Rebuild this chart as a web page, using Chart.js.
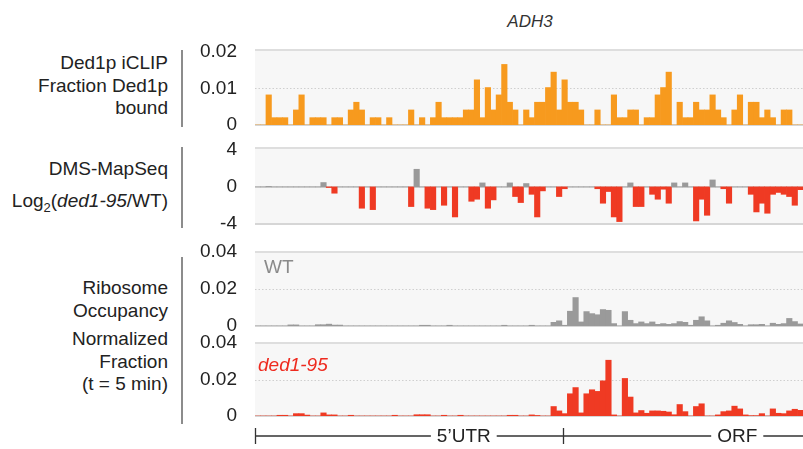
<!DOCTYPE html>
<html>
<head>
<meta charset="utf-8">
<script src="https://cdn.jsdelivr.net/npm/chart.js@4.4.0/dist/chart.umd.min.js"></script>
<style>
body { margin: 0; background: #fff; width: 803px; height: 449px; overflow: hidden; position: relative;
       font-family: "Liberation Sans", Arial, sans-serif; color: #222; }
canvas { position: absolute; left: 0; }
.lab { position: absolute; right: 635px; font-size: 19px; line-height: 22px; text-align: right; white-space: nowrap; }
.sep { position: absolute; left: 181px; width: 2px; background: #8c8c8c; }
#title { position: absolute; left: 480px; width: 100px; top: 12px; text-align: center; font-size: 17px; font-style: italic; color: #333; }
#wt { position: absolute; left: 264px; top: 256px; font-size: 19px; color: #8a8a8a; }
#ded { position: absolute; left: 258px; top: 354px; font-size: 19px; font-style: italic; color: #ee2a1f; }
</style>
</head>
<body>
<div id="title">ADH3</div>

<div class="lab" style="top:52px">Ded1p iCLIP</div>
<div class="lab" style="top:75px">Fraction Ded1p</div>
<div class="lab" style="top:97px">bound</div>
<div class="lab" style="top:158px">DMS-MapSeq</div>
<div class="lab" style="top:190px">Log<sub style="font-size:13px">2</sub>(<i>ded1-95</i>/WT)</div>
<div class="lab" style="top:277px">Ribosome</div>
<div class="lab" style="top:300px">Occupancy</div>
<div class="lab" style="top:328px">Normalized</div>
<div class="lab" style="top:351px">Fraction</div>
<div class="lab" style="top:373px">(t = 5 min)</div>

<div class="sep" style="top:50px;height:77px"></div>
<div class="sep" style="top:147px;height:81px"></div>
<div class="sep" style="top:257px;height:167px"></div>

<canvas id="c1" width="803" height="136" style="top:19px"></canvas>
<canvas id="c2" width="803" height="137" style="top:117px"></canvas>
<canvas id="c3" width="803" height="135" style="top:221px"></canvas>
<canvas id="c4" width="803" height="137" style="top:312px"></canvas>
<div id="wt">WT</div>
<div id="ded">ded1-95</div>

<script>
// position bins along the ADH3 transcript (left to right)
var bins = [];
for (var i = 0; i < 100; i++) bins.push(i + 1);

// Ded1p iCLIP, fraction bound
var iclip = [
  0, 0, .0082, .002, .002, .002, 0, .0041, .0082, 0,
  .002, .002, .002, 0, .002, .002, 0, .0041, .0062, .0041,
  0, .002, .002, 0, .002, 0, 0, 0, .0041, 0,
  .002, 0, .002, .0062, .002, .002, .002, .002, .0041, .0041,
  .0123, .002, .0102, .0041, .0082, .0165, .0062, .0041, 0, .0041,
  .002, .0062, .0062, .0102, .0144, .0041, .0123, .0062, .0062, .0041,
  0, 0, .0041, 0, 0, .0082, .002, .002, .0041, .0041,
  0, .002, .002, .0082, .0102, .0144, 0, .0062, .002, .002,
  .0062, .0041, .0041, .0082, .0041, .002, 0, .0041, .0082, 0,
  .0062, .0062, .002, .0041, .002, 0, .0041, .0041, 0, 0
];

// DMS-MapSeq log2(ded1-95/WT)
var dms = [
  0, 0, 0.05, 0, 0, 0, 0, 0, 0, 0,
  0, 0, 0.47, -0.07, -0.68, 0, 0, 0, 0, -2.3,
  0, -2.45, 0, 0, 0, 0, 0, 0, -2.12, 1.9,
  0, -2.3, -2.45, 0, -1.98, 0, -3.24, 0, 0, -1.55,
  -1.33, 0.43, -2.3, -1.4, 0, 0, 0.43, -1.04, -1.69, 0.36,
  -0.8, -3.24, -0.43, 0, 0, -1.04, -0.2, 0, 0, 0,
  0, 0, -0.2, -1.76, -0.5, -3.24, -3.74, 0, 0.43, -2.12,
  -2.12, 0, -0.8, -1.33, -0.25, -1.76, 0.43, 0, 0.43, 0,
  -3.67, -1.33, -3.06, 0.75, 0, -0.2, -1.76, 0, 0, 0,
  -0.8, -2.7, -1.76, -2.84, -0.8, -0.6, -0.8, -1.04, -1.98, -0.3
];

// ribosome occupancy, WT
var riboWT = [
  0, 0, 0, 0, 0, 0, .0006, .0006, 0, 0,
  0, .0007, .0007, .001, .0005, .0005, 0, 0, 0, 0,
  0, 0, 0, 0, 0, 0, 0, 0, 0, 0,
  .0004, .0004, 0, 0, 0, .0004, 0, 0, 0, 0,
  0, 0, 0, 0, 0, .0004, 0, 0, 0, 0,
  .0004, 0, 0, 0, .002, .0028, .0004, .008, .0154, .0022,
  .0078, .0067, .0061, .0089, .0085, .0013, 0, .0078, .0031, .0013,
  .0022, .0013, .0022, .0009, .0013, .0009, .0013, .0024, .002, .0004,
  .0031, .005, .0028, 0, .0004, .0015, .0028, .0019, .0009, 0,
  .0007, .0007, .0009, 0, .0015, .0009, .0013, .0041, .0024, .0011
];

// ribosome occupancy, ded1-95
var riboDed1 = [
  0, 0, 0, 0, .0004, .0004, 0, .0013, .0013, .0005,
  0, 0, .0017, .0006, .0006, 0, 0, .0004, 0, 0,
  0, 0, 0, 0, 0, .0004, 0, 0, 0, .0007,
  .0007, .0007, 0, 0, .0004, 0, 0, .0004, 0, 0,
  0, 0, 0, 0, 0, 0, .0004, .0004, 0, 0,
  .0006, .0003, 0, 0, .0052, .0028, .0013, .0122, .0156, .0017,
  .0122, .0144, .0135, .0193, .0306, .0006, 0, .0206, .0104, .0017,
  .003, .0015, .0028, .0028, .0026, .0022, .0007, .0063, .0024, 0,
  .0052, .0067, 0, 0, .0006, .0024, .0028, .0054, .0039, .0006,
  .0002, .0002, .0013, 0, .0039, .0015, .0013, .0028, .0037, .0031
];

// transcript regions, in bin units from the left edge
var regions = { utrStart: 0, orfStart: 56.2, utrLabel: 38.1, orfLabel: 88.0 };

var ORANGE = '#f79a1e', RED = '#ef3a23', GRAY = '#9a9a9a';

var panelDeco = {
  id: 'panelDeco',
  beforeDatasetsDraw: function (chart, args, opts) {
    var a = chart.chartArea, y = chart.scales.y, ctx = chart.ctx;
    ctx.save();
    ctx.fillStyle = '#f7f7f7';
    ctx.fillRect(a.left, a.top, a.right - a.left, a.bottom - a.top);
    ctx.strokeStyle = '#dedede';
    ctx.lineWidth = 2;
    ctx.beginPath(); ctx.moveTo(a.left, a.top + 1); ctx.lineTo(a.right, a.top + 1); ctx.stroke();
    (opts.solid || []).forEach(function (v) {
      var p = Math.round(y.getPixelForValue(v));
      ctx.strokeStyle = '#d6d6d6';
      ctx.lineWidth = 2;
      ctx.beginPath(); ctx.moveTo(a.left, p); ctx.lineTo(a.right, p); ctx.stroke();
    });
    (opts.dotted || []).forEach(function (v) {
      var p = Math.round(y.getPixelForValue(v)) + 0.5;
      ctx.strokeStyle = '#cfcfcf';
      ctx.lineWidth = 1;
      ctx.setLineDash([1.5, 2]);
      ctx.beginPath(); ctx.moveTo(a.left, p); ctx.lineTo(a.right, p); ctx.stroke();
      ctx.setLineDash([]);
    });
    ctx.restore();
  }
};

var regionAxis = {
  id: 'regionAxis',
  afterDraw: function (chart, args, opts) {
    if (!opts.show) return;
    var x = chart.scales.x, ctx = chart.ctx;
    var px = function (e) { return x.getPixelForValue(e - 0.5); };
    var yl = chart.chartArea.bottom + 20;
    ctx.save();
    ctx.strokeStyle = '#333';
    ctx.lineWidth = 1.3;
    ctx.beginPath();
    ctx.moveTo(px(regions.utrStart), yl); ctx.lineTo(chart.width, yl);
    [regions.utrStart, regions.orfStart].forEach(function (e) {
      var p = Math.round(px(e)) + 0.5;
      ctx.moveTo(p, yl - 8); ctx.lineTo(p, yl + 8);
    });
    ctx.stroke();
    ctx.font = '19px "Liberation Sans", Arial, sans-serif';
    ctx.textAlign = 'center';
    ctx.textBaseline = 'middle';
    [['5\u2019UTR', regions.utrLabel], ['ORF', regions.orfLabel]].forEach(function (t) {
      var c = px(t[1]), w = ctx.measureText(t[0]).width;
      ctx.fillStyle = '#fff';
      ctx.fillRect(c - w / 2 - 6, yl - 8, w + 12, 16);
      ctx.fillStyle = '#222';
      ctx.fillText(t[0], c, yl + 1);
    });
    ctx.restore();
  }
};

function makePanel(id, values, color, yMin, yMax, ticks, deco, pad, showRegions) {
  return new Chart(document.getElementById(id), {
    type: 'bar',
    data: {
      labels: bins,
      datasets: [{
        data: values,
        backgroundColor: color,
        borderWidth: 0,
        barPercentage: 1,
        categoryPercentage: 1
      }]
    },
    plugins: [panelDeco, regionAxis],
    options: {
      responsive: false,
      animation: false,
      layout: { padding: { top: pad[0], bottom: pad[1], left: 0, right: 0 } },
      plugins: {
        legend: { display: false },
        tooltip: { enabled: false },
        panelDeco: deco,
        regionAxis: { show: showRegions }
      },
      scales: {
        x: { display: false },
        y: {
          min: yMin,
          max: yMax,
          afterFit: function (s) { s.width = 255; },
          afterBuildTicks: function (s) { s.ticks = ticks.map(function (v) { return { value: v }; }); },
          grid: { display: false, drawTicks: false },
          border: { display: false },
          ticks: {
            padding: 18,
            color: '#222',
            font: { family: '"Liberation Sans", Arial, sans-serif', size: 19 },
            callback: function (v) { return v === 0 ? '0' : String(v); }
          }
        }
      }
    }
  });
}

makePanel('c1', iclip, ORANGE, 0, 0.0207, [0, 0.01, 0.02], { solid: [0], dotted: [0.01] }, [30, 30], false);
makePanel('c2', dms, function (c) { return c.raw >= 0 ? GRAY : RED; }, -4, 4.3, [-4, 0, 4], { solid: [0, -4] }, [30, 30], false);
makePanel('c3', riboWT, GRAY, 0, 0.0406, [0, 0.02, 0.04], { solid: [0], dotted: [0.02] }, [30, 30], false);
makePanel('c4', riboDed1, RED, 0, 0.0406, [0, 0.02, 0.04], { solid: [0], dotted: [0.02] }, [30, 33], true);
</script>
</body>
</html>
